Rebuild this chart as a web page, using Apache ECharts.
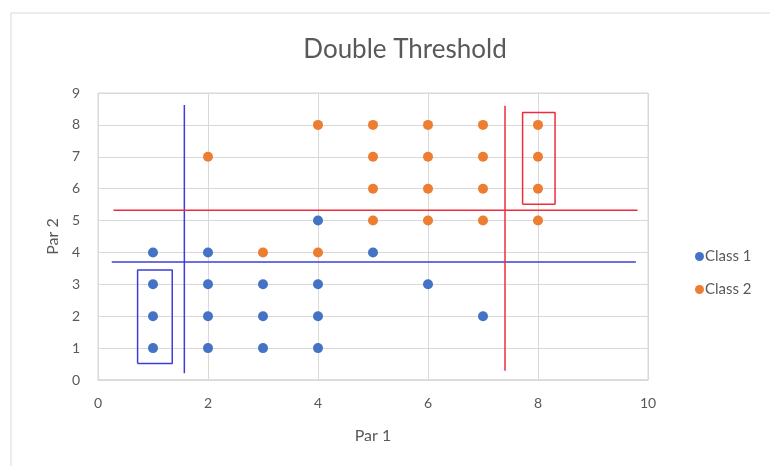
<!DOCTYPE html>
<html>
<head>
<meta charset="utf-8">
<script src="https://cdn.jsdelivr.net/npm/echarts@6/dist/echarts.min.js"></script>
<style>
    html, body { margin: 0; padding: 0; background: #fff; }
    #chart { width: 770px; height: 466px; }
</style>
</head>
<body>
<div id="chart"></div>
<script>
// points [par1, par2]
var class1 = [[1, 4], [1, 3], [1, 2], [1, 1], [2, 4], [2, 3], [2, 2], [2, 1],
    [3, 3], [3, 2], [3, 1], [4, 5], [4, 3], [4, 2], [4, 1], [5, 4], [6, 3], [7, 2]]
var class2 = [[2, 7], [3, 4], [4, 4], [4, 8], [5, 8], [5, 7], [5, 6], [5, 5],
    [6, 8], [6, 7], [6, 6], [6, 5], [7, 8], [7, 7], [7, 6], [7, 5],
    [8, 8], [8, 7], [8, 6], [8, 5]]

// threshold lines (data units)
var blueV = [[1.57, 0.21], [1.57, 8.62]]
var blueH = [[0.25, 3.7], [9.78, 3.7]]
var redH = [[0.28, 5.32], [9.81, 5.32]]
var redV = [[7.4, 0.29], [7.4, 8.6]]
// highlight boxes
var blueBox = [[0.72, 0.52], [1.35, 0.52], [1.35, 3.45], [0.72, 3.45], [0.72, 0.52]]
var redBox = [[7.72, 5.51], [8.31, 5.51], [8.31, 8.39], [7.72, 8.39], [7.72, 5.51]]

var xTicks = [0, 2, 4, 6, 8, 10]
var yTicks = [0, 1, 2, 3, 4, 5, 6, 7, 8, 9]

var fontColor = '#595959'
var gridColor = '#d9d9d9'
var fontFamily = 'Lato, "Liberation Sans", sans-serif'
var blue = '#3d3ddb'
var red = '#ee2d3c'

function lineSeries(data, color) {
    return {
        type: 'line',
        data: data,
        symbol: 'none',
        silent: true,
        animation: false,
        lineStyle: { color: color, width: 1.5 },
        z: 3
    }
}

var myChart = echarts.init(document.getElementById('chart'))
var option = {
    animation: false,
    textStyle: { fontFamily: fontFamily },
    title: {
        text: 'Double Threshold',
        left: 400,
        top: 32,
        textAlign: 'center',
        textStyle: { color: fontColor, fontSize: 26, fontWeight: 'normal', fontFamily: fontFamily }
    },
    graphic: [{
        type: 'rect',
        shape: { x: 11, y: 13, width: 800, height: 500 },
        style: { fill: 'none', stroke: gridColor, lineWidth: 1 },
        silent: true,
        z: -1
    }],
    legend: {
        orient: 'vertical',
        left: 690,
        top: 244,
        itemGap: 18,
        itemWidth: 9,
        itemHeight: 9,
        icon: 'circle',
        data: ['Class 1', 'Class 2'],
        textStyle: { color: fontColor, fontSize: 15, padding: [0, 0, 0, -4] }
    },
    grid: {
        left: 98,
        right: 122,
        top: 93,
        bottom: 86,
        show: true,
        borderColor: gridColor,
        borderWidth: 1
    },
    xAxis: {
        type: 'value',
        min: xTicks[0],
        max: xTicks[xTicks.length - 1],
        interval: 2,
        name: 'Par 1',
        nameLocation: 'middle',
        nameGap: 48,
        nameTextStyle: { color: fontColor, fontSize: 16 },
        axisLine: { show: true, lineStyle: { color: gridColor, width: 1.5 } },
        axisTick: { show: false },
        axisLabel: { color: fontColor, fontSize: 14, margin: 16 },
        splitLine: { show: true, lineStyle: { color: gridColor } }
    },
    yAxis: {
        type: 'value',
        min: yTicks[0],
        max: yTicks[yTicks.length - 1],
        interval: 1,
        name: 'Par 2',
        nameLocation: 'middle',
        nameGap: 36,
        nameTextStyle: { color: fontColor, fontSize: 16 },
        axisLine: { show: false },
        axisTick: { show: false },
        axisLabel: { color: fontColor, fontSize: 14, margin: 18 },
        splitLine: { show: true, lineStyle: { color: gridColor } }
    },
    series: [
        {
            name: 'Class 1',
            type: 'scatter',
            data: class1,
            symbolSize: 10,
            itemStyle: { color: '#4472c4', opacity: 1 },
            z: 4
        },
        {
            name: 'Class 2',
            type: 'scatter',
            data: class2,
            symbolSize: 10,
            itemStyle: { color: '#ed7d31', opacity: 1 },
            z: 4
        },
        lineSeries(blueV, blue),
        lineSeries(blueH, blue),
        lineSeries(blueBox, blue),
        lineSeries(redH, red),
        lineSeries(redV, red),
        lineSeries(redBox, red)
    ]
}
myChart.setOption(option)

window.addEventListener('resize', function() {
    myChart.resize()
})
</script>
</body>
</html>
